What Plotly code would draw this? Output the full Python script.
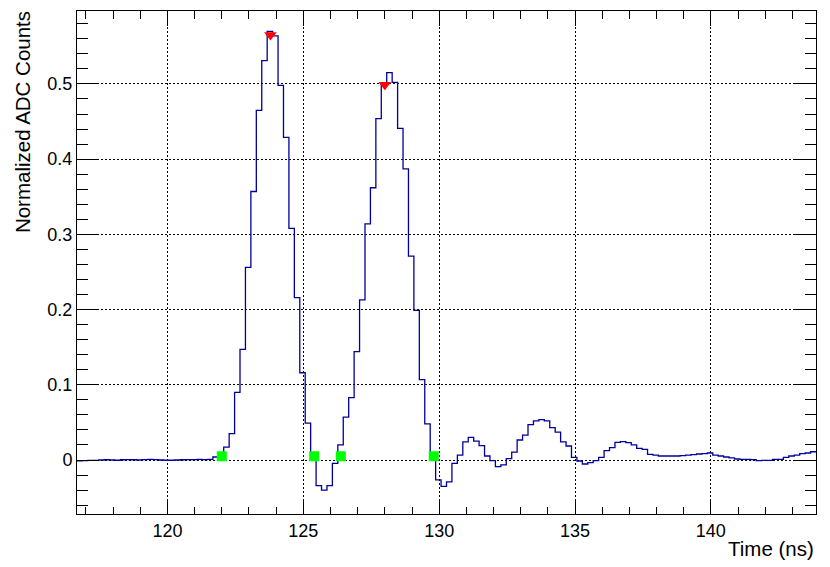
import numpy as np
import plotly.graph_objects as go

# Histogram binning (ns)
bin_start = 116.67
bin_width = 0.2

# Normalized ADC counts per 0.2 ns bin
adc_counts = [
    -0.0010, -0.0008, -0.0005, -0.0005, 0.0000, 0.0003, 0.0000, -0.0003,
    0.0003, 0.0005, 0.0003, 0.0000, 0.0005, 0.0008, 0.0005, 0.0000,
    -0.0003, -0.0003, 0.0000, 0.0003, 0.0005, 0.0005, 0.0008, 0.0005,
    0.0008, 0.0040, 0.0080, 0.0170, 0.0350, 0.0900, 0.1470, 0.2560,
    0.3570, 0.4650, 0.5310, 0.5700, 0.5640, 0.4980, 0.4290, 0.3080,
    0.2160, 0.1160, 0.0490, 0.0040, -0.0340, -0.0400, -0.0340, -0.0044,
    0.0200, 0.0570, 0.0830, 0.1440, 0.2130, 0.3140, 0.3620, 0.4540,
    0.5000, 0.5150, 0.5020, 0.4410, 0.3870, 0.2710, 0.1990, 0.1070,
    0.0480, 0.0080, -0.0265, -0.0350, -0.0290, -0.0044, 0.0066, 0.0240,
    0.0300, 0.0250, 0.0190, 0.0053, -0.0009, -0.0089, -0.0066, 0.0018,
    0.0106, 0.0266, 0.0330, 0.0470, 0.0520, 0.0536, 0.0520, 0.0430,
    0.0370, 0.0240, 0.0186, 0.0035, -0.0013, -0.0053, -0.0035, -0.0009,
    0.0035, 0.0124, 0.0164, 0.0235, 0.0244, 0.0230, 0.0200, 0.0155,
    0.0140, 0.0075, 0.0066, 0.0053, 0.0053, 0.0053, 0.0053, 0.0058,
    0.0066, 0.0072, 0.0080, 0.0084, 0.0093, 0.0066, 0.0053, 0.0040,
    0.0027, 0.0013, 0.0009, 0.0009, 0.0004, -0.0009, -0.0004, -0.0004,
    0.0009, 0.0009, 0.0035, 0.0053, 0.0066, 0.0084, 0.0093, 0.0110,
]

# Peak markers (red down-triangles)
peak_times = [123.79, 128.00]
peak_values = [0.565, 0.499]

# Threshold crossing markers (green squares)
cross_times = [122.00, 125.40, 126.38, 129.80]
cross_values = [0.005, 0.005, 0.005, 0.005]

x_range = [116.67, 143.87]
y_range = [-0.0718, 0.597]

edges = bin_start + bin_width * np.arange(len(adc_counts) + 1)
step_x = list(edges)
step_y = list(adc_counts) + [adc_counts[-1]]

FONT = "Liberation Sans, Arial, Helvetica, sans-serif"

fig = go.Figure()
fig.add_trace(go.Scatter(
    x=step_x, y=step_y, mode="lines", line_shape="hv",
    line=dict(color="#000099", width=1.3), showlegend=False, hoverinfo="skip"))
fig.add_trace(go.Scatter(
    x=cross_times, y=cross_values, mode="markers",
    marker=dict(symbol="square", size=10, color="#00ff00", line=dict(width=0)),
    showlegend=False))
fig.add_trace(go.Scatter(
    x=peak_times, y=peak_values, mode="markers",
    marker=dict(symbol="triangle-down", size=11, color="#ff0000", line=dict(width=0)),
    showlegend=False))

axis_common = dict(
    showline=True, linecolor="black", linewidth=1, mirror="allticks",
    ticks="inside", tickcolor="black", tickwidth=1,
    showgrid=True, gridcolor="black", gridwidth=1, griddash="2px,2px",
    zeroline=False, automargin=False,
    tickfont=dict(family=FONT, size=18, color="black"),
)

fig.update_xaxes(
    range=x_range, tick0=120, dtick=5, ticklen=15,
    minor=dict(ticks="inside", dtick=1, ticklen=7.5, tickcolor="black",
               tickwidth=1, showgrid=False),
    **axis_common)
fig.update_yaxes(
    range=y_range, tick0=0, dtick=0.1, ticklen=22,
    minor=dict(ticks="inside", dtick=0.02, ticklen=11, tickcolor="black",
               tickwidth=1, showgrid=False),
    **axis_common)

fig.add_annotation(
    text="Time (ns)", xref="paper", yref="paper", x=1.0, y=-0.0676,
    xanchor="right", yanchor="middle", showarrow=False,
    font=dict(family=FONT, size=20.5, color="black"))
fig.add_annotation(
    text="Normalized ADC Counts", xref="paper", yref="paper", x=-0.0745, y=0.779,
    xanchor="center", yanchor="middle", textangle=-90, showarrow=False,
    font=dict(family=FONT, size=20.5, color="black"))

fig.update_layout(
    width=830, height=567,
    margin=dict(l=77, r=14, t=11, b=53, pad=0),
    paper_bgcolor="white", plot_bgcolor="white",
    font=dict(family=FONT, color="black"),
)

fig.write_html(
    "out.html",
    config={"displayModeBar": False},
    post_script="document.body.style.margin='0px';document.body.style.overflow='hidden';",
)
